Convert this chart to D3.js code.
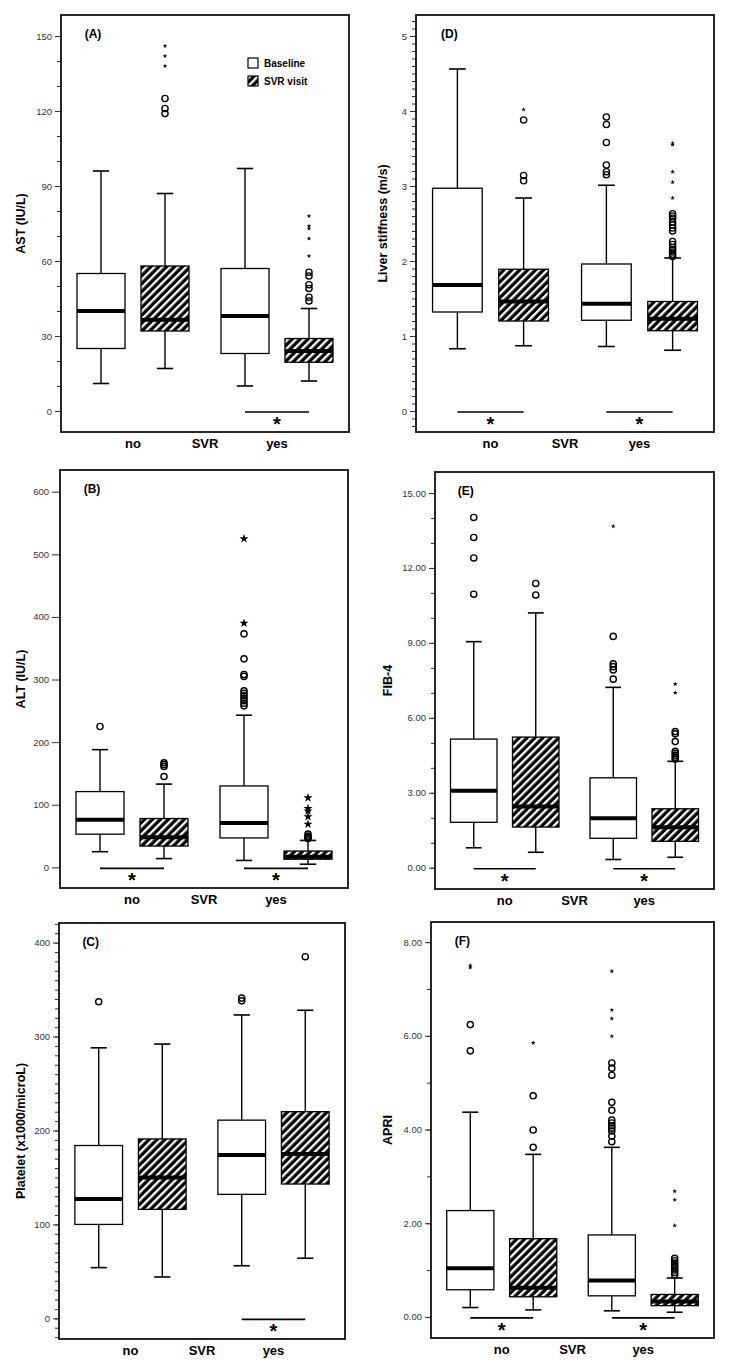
<!DOCTYPE html>
<html><head><meta charset="utf-8">
<script src="https://cdn.jsdelivr.net/npm/d3@7"></script>
<style>body{margin:0;background:#fff}svg{display:block}text{font-family:"Liberation Sans",Arial,Helvetica,sans-serif}</style>
</head><body><svg id="c" width="731" height="1370"></svg>
<script>
// ---------- DATA ----------
const groups = ["no", "yes"];
const visits = ["Baseline", "SVR visit"];
const groupAxisLabel = "SVR";
// Box order: no-Baseline, no-SVR visit, yes-Baseline, yes-SVR visit
// each box: [lower whisker, Q1, median, Q3, upper whisker]
const astStats = [[11, 25, 40, 55, 96], [17, 32, 36.5, 58, 87], [10, 23, 38, 57, 97], [12, 19.5, 24, 29, 41]];
const astOutliers = [[], [119, 121, 125], [], [44, 45.5, 49, 50.5, 54, 55.5]];
const astExtremes = [[], [138, 142, 146], [], [62, 69, 73, 74, 78]];
const astSignif = ["yes"];

const lsmStats = [[0.83, 1.32, 1.68, 2.97, 4.56], [0.87, 1.20, 1.46, 1.89, 2.84], [0.86, 1.21, 1.43, 1.96, 3.01], [0.81, 1.07, 1.23, 1.46, 2.04]];
const lsmOutliers = [[], [3.07, 3.14, 3.88], [3.15, 3.19, 3.28, 3.58, 3.82, 3.92],
  [2.06, 2.09, 2.12, 2.15, 2.18, 2.22, 2.26, 2.40, 2.44, 2.48, 2.52, 2.57, 2.60, 2.63]];
const lsmExtremes = [[], [4.02], [], [2.84, 3.05, 3.19, 3.55, 3.57]];
const lsmSignif = ["no", "yes"];

const altStats = [[25, 53, 76, 121, 188], [14, 34, 48, 78, 133], [11, 47, 71, 130, 243], [5, 13, 17, 26, 43]];
const altOutliers = [[225], [145, 161, 164, 167], [258, 262, 266, 270, 274, 278, 282, 305, 308, 333, 373], [46, 48, 50, 53]];
const altExtremes = [[], [], [390, 525], [69, 81, 90, 94, 111]];
const altSignif = ["no", "yes"];

const fibStats = [[0.80, 1.82, 3.08, 5.15, 9.05], [0.62, 1.63, 2.45, 5.23, 10.2], [0.33, 1.18, 1.98, 3.60, 7.22], [0.42, 1.06, 1.62, 2.36, 4.26]];
const fibOutliers = [[10.95, 12.4, 13.22, 14.02], [10.92, 11.38], [7.55, 7.92, 8.05, 8.16, 9.26], [4.35, 4.42, 4.5, 4.58, 4.66, 5.05, 5.36, 5.45]];
const fibExtremes = [[], [], [13.67], [7.0, 7.35]];
const fibSignif = ["no", "yes"];

const pltStats = [[54, 100, 127, 184, 288], [44, 116, 150, 191, 292], [56, 132, 174, 211, 323], [64, 143, 175, 220, 328]];
const pltOutliers = [[337], [], [338, 341], [385]];
const pltExtremes = [[], [], [], []];
const pltSignif = ["yes"];

const apriStats = [[0.20, 0.58, 1.04, 2.27, 4.37], [0.15, 0.43, 0.62, 1.67, 3.47], [0.13, 0.45, 0.78, 1.75, 3.62], [0.10, 0.24, 0.33, 0.48, 0.83]];
const apriOutliers = [[5.68, 6.24], [3.62, 3.99, 4.72], [3.74, 3.86, 3.97, 4.03, 4.08, 4.14, 4.2, 4.41, 4.58, 5.16, 5.31, 5.42],
  [0.9, 0.95, 1.0, 1.05, 1.1, 1.15, 1.2, 1.25]];
const apriExtremes = [[7.46, 7.5], [5.85], [5.99, 6.37, 6.55, 7.38], [1.95, 2.5, 2.68]];
const apriSignif = ["no", "yes"];

// tick values
const astMajor = [0, 30, 60, 90, 120, 150];
const lsmMajor = [0, 1, 2, 3, 4, 5];
const altMajor = [0, 100, 200, 300, 400, 500, 600];
const fibMajor = [0, 3, 6, 9, 12, 15];
const pltMajor = [0, 100, 200, 300, 400];
const apriMajor = [0, 2, 4, 6, 8];

// ---------- LAYOUT ----------
const svg = d3.select("#c");
const defs = svg.append("defs");
const pat = defs.append("pattern").attr("id", "hatch").attr("patternUnits", "userSpaceOnUse")
  .attr("width", 5.6).attr("height", 5.6).attr("patternTransform", "rotate(45)");
pat.append("rect").attr("width", 5.6).attr("height", 5.6).attr("fill", "#000");
pat.append("rect").attr("x", 0).attr("width", 2.3).attr("height", 5.6).attr("fill", "#fff");

const range = (a, b, s) => d3.range(Math.round(a / s), Math.round(b / s) + 1).map(k => +(k * s).toFixed(4));

const panels = [
  {tag: "(A)", title: "AST (IU/L)", stats: astStats, out: astOutliers, ext: astExtremes, sig: astSignif,
   l: 61, t: 15, r: 349, b: 432, domain: [-8.4, 158.4], major: astMajor, minor: range(0, 150, 10), fmt: d3.format("d"),
   tx: 22, legend: true, starSize: 7},
  {tag: "(D)", title: "Liver stiffness (m/s)", stats: lsmStats, out: lsmOutliers, ext: lsmExtremes, sig: lsmSignif,
   l: 416, t: 15, r: 714, b: 432, domain: [-0.28, 5.28], major: lsmMajor, minor: range(-0.2, 5.2, 0.1), fmt: d3.format("d"),
   tx: 384, starSize: 7},
  {tag: "(B)", title: "ALT (IU/L)", stats: altStats, out: altOutliers, ext: altExtremes, sig: altSignif,
   l: 60, t: 470, r: 348, b: 888, domain: [-33, 634.7], major: altMajor, minor: [], fmt: d3.format("d"),
   tx: 22, starSize: 26, majorLen: 8},
  {tag: "(E)", title: "FIB-4", stats: fibStats, out: fibOutliers, ext: fibExtremes, sig: fibSignif,
   l: 435, t: 472, r: 714, b: 889, domain: [-0.85, 15.84], major: fibMajor, minor: range(0, 15, 1), fmt: d3.format(".2f"),
   tx: 389, starSize: 7},
  {tag: "(C)", title: "Platelet (x1000/microL)", stats: pltStats, out: pltOutliers, ext: pltExtremes, sig: pltSignif,
   l: 59, t: 923, r: 345, b: 1339, domain: [-22, 420.9], major: pltMajor, minor: range(-20, 420, 10), fmt: d3.format("d"),
   tx: 22, starSize: 7},
  {tag: "(F)", title: "APRI", stats: apriStats, out: apriOutliers, ext: apriExtremes, sig: apriSignif,
   l: 431, t: 922, r: 714, b: 1338, domain: [-0.45, 8.43], major: apriMajor, minor: range(0, 8, 1), fmt: d3.format(".2f"),
   tx: 389, starSize: 7}
];

panels.forEach(drawPanel);

function drawPanel(p) {
  const g = svg.append("g");
  const x0 = d3.scaleBand().domain(groups).range([p.l, p.r]);
  const x1 = d3.scaleBand().domain(visits).range([0, x0.bandwidth()]).paddingInner(0.25).paddingOuter(0.25);
  const y = d3.scaleLinear().domain(p.domain).range([p.b, p.t]);
  const bw = x1.bandwidth();

  // axes
  if (p.minor.length) {
    g.append("g").attr("transform", `translate(${p.l},0)`)
      .call(d3.axisLeft(y).tickValues(p.minor).tickSize(4).tickFormat(""))
      .call(s => { s.select(".domain").remove(); s.selectAll("line").attr("stroke", "#333"); });
  }
  g.append("g").attr("transform", `translate(${p.l},0)`)
    .call(d3.axisLeft(y).tickValues(p.major).tickSize(p.majorLen || 6).tickPadding(3).tickFormat(p.fmt))
    .call(s => {
      s.select(".domain").remove();
      s.selectAll("line").attr("stroke", "#333");
      s.selectAll("text").attr("font-size", 9.5).attr("fill", "#333")
        .style("font-family", '"Liberation Sans", Arial, sans-serif');
    });

  // frame
  g.append("rect").attr("x", p.l).attr("y", p.t).attr("width", p.r - p.l).attr("height", p.b - p.t)
    .attr("fill", "none").attr("stroke", "#111").attr("stroke-width", 1.8);

  // boxes
  p.stats.forEach((s, i) => {
    const grp = groups[Math.floor(i / 2)], vis = visits[i % 2];
    const xl = x0(grp) + x1(vis), xc = xl + bw / 2;
    const cap = bw * 0.17;
    const bg = g.append("g");
    bg.append("line").attr("x1", xc).attr("x2", xc).attr("y1", y(s[0])).attr("y2", y(s[1]))
      .attr("stroke", "#000").attr("stroke-width", 1.4);
    bg.append("line").attr("x1", xc).attr("x2", xc).attr("y1", y(s[3])).attr("y2", y(s[4]))
      .attr("stroke", "#000").attr("stroke-width", 1.4);
    [s[0], s[4]].forEach(v => bg.append("line").attr("x1", xc - cap).attr("x2", xc + cap)
      .attr("y1", y(v)).attr("y2", y(v)).attr("stroke", "#000").attr("stroke-width", 1.6));
    bg.append("rect").attr("x", xl).attr("y", y(s[3])).attr("width", bw).attr("height", y(s[1]) - y(s[3]))
      .attr("fill", vis === "Baseline" ? "#fff" : "url(#hatch)").attr("stroke", "#000").attr("stroke-width", 1.3);
    bg.append("line").attr("x1", xl).attr("x2", xl + bw).attr("y1", y(s[2])).attr("y2", y(s[2]))
      .attr("stroke", "#000").attr("stroke-width", 4);
    // outliers
    p.out[i].forEach(v => bg.append("circle").attr("cx", xc).attr("cy", y(v)).attr("r", 3.1)
      .attr("fill", "none").attr("stroke", "#000").attr("stroke-width", 1.4));
    p.ext[i].forEach(v => bg.append("path").attr("d", d3.symbol(d3.symbolStar, p.starSize)())
      .attr("transform", `translate(${xc},${y(v)})`).attr("fill", "#000"));
  });

  // significance markers
  p.sig.forEach(grp => {
    const xa = x0(grp) + x1(visits[0]) + bw / 2, xb = x0(grp) + x1(visits[1]) + bw / 2;
    const yy = y(0) + 1;
    g.append("line").attr("x1", xa).attr("x2", xb).attr("y1", yy).attr("y2", yy)
      .attr("stroke", "#000").attr("stroke-width", 1.6);
    g.append("text").attr("x", (xa + xb) / 2).attr("y", yy + 19).attr("text-anchor", "middle")
      .attr("font-size", 20).attr("font-weight", "bold").text("*");
  });

  // category labels
  const ly = p.b + 16;
  groups.forEach(grp => g.append("text").attr("x", x0(grp) + x0.bandwidth() / 2).attr("y", ly)
    .attr("text-anchor", "middle").attr("font-size", 13).attr("font-weight", "bold").text(grp));
  g.append("text").attr("x", (p.l + p.r) / 2).attr("y", ly).attr("text-anchor", "middle")
    .attr("font-size", 13).attr("font-weight", "bold").text(groupAxisLabel);

  // panel tag
  g.append("text").attr("x", x0(groups[0]) + x1(visits[0]) + bw / 2 - 8).attr("y", p.t + 23)
    .attr("text-anchor", "middle").attr("font-size", 12).attr("font-weight", "bold").text(p.tag);

  // y title
  const cy = (p.t + p.b) / 2;
  g.append("text").attr("transform", `translate(${p.tx},${cy}) rotate(-90)`).attr("text-anchor", "middle")
    .attr("dominant-baseline", "middle").attr("font-size", 12.5).attr("font-weight", "bold").text(p.title);

  // legend
  if (p.legend) {
    const lx = p.l + 187, lyy = p.t + 43;
    visits.forEach((v, k) => {
      g.append("rect").attr("x", lx).attr("y", lyy + k * 18).attr("width", 10).attr("height", 10)
        .attr("fill", k === 0 ? "#fff" : "url(#hatch)").attr("stroke", "#000").attr("stroke-width", 1.2);
      g.append("text").attr("x", lx + 16).attr("y", lyy + k * 18 + 9).attr("font-size", 10)
        .attr("font-weight", "bold").text(v);
    });
  }
}
</script></body></html>
